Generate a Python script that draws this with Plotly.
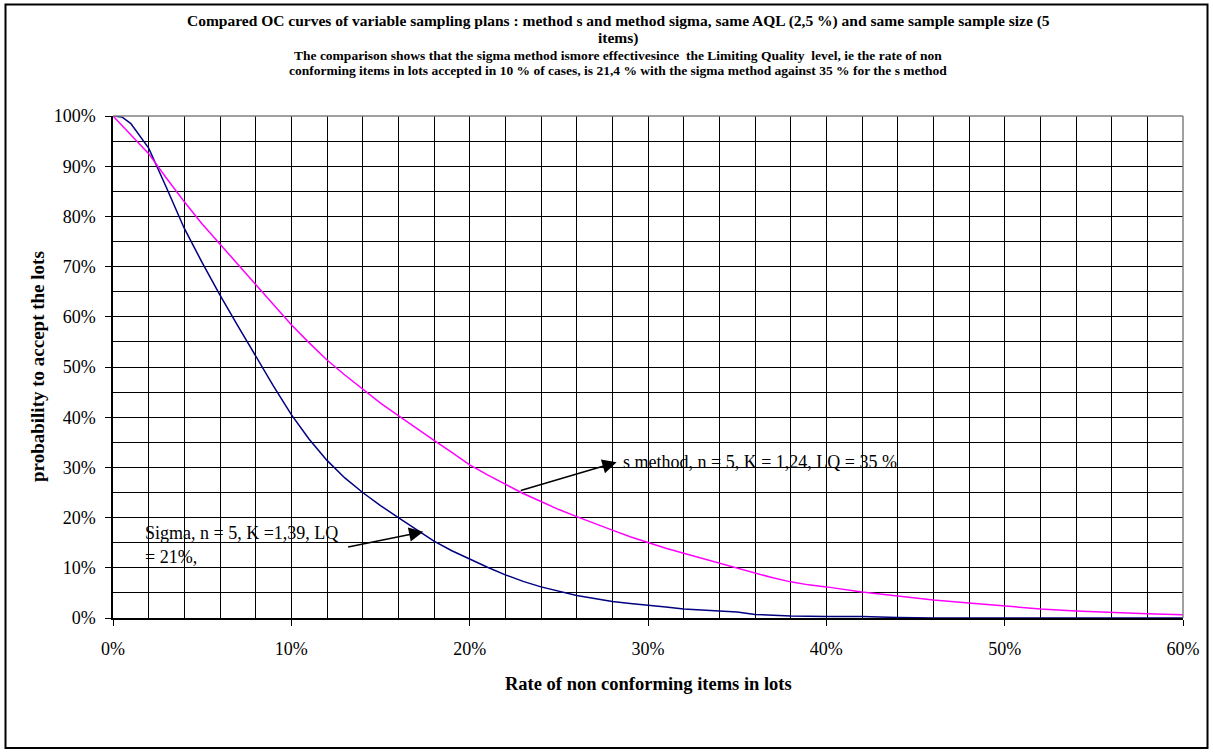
import plotly.graph_objects as go

# ---------------- data ----------------
rate_sigma = [0, 0.5, 1, 2, 3, 4, 5, 6, 7, 8, 9, 10, 11, 12, 13, 14, 15, 16, 17, 18, 19, 20,
              21, 22, 23, 24, 25, 26, 27, 28, 29, 30, 31, 32, 33, 34, 35, 36, 37, 38, 40,
              42, 44, 46, 50, 55, 60]
pa_sigma = [100, 99.8, 98.5, 93.6, 85.7, 77.6, 70.8, 64.3, 58.2, 52.1, 46.2, 40.5, 35.6, 31.4,
            27.9, 25.0, 22.4, 20.0, 17.6, 15.3, 13.4, 11.7, 10.1, 8.6, 7.3, 6.2, 5.3, 4.5,
            3.9, 3.3, 2.9, 2.6, 2.2, 1.8, 1.6, 1.5, 1.2, 0.7, 0.5, 0.4, 0.3, 0.3, 0.1, 0.0,
            0.0, 0.0, 0.0]

rate_s = [0, 1, 2, 3, 4, 5, 6, 7, 8, 9, 10, 11, 12, 13, 14, 15, 16, 17, 18, 19, 20, 21, 22,
          23, 24, 25, 26, 27, 28, 29, 30, 31, 32, 33, 34, 35, 36, 37, 38, 39, 40, 41, 42, 44,
          46, 48, 50, 52, 54, 56, 58, 60]
pa_s = [100, 96.2, 92.5, 87.6, 82.9, 78.5, 74.5, 70.5, 66.5, 62.3, 58.4, 54.8, 51.4, 48.4,
        45.6, 42.8, 40.3, 37.8, 35.4, 33.0, 30.5, 28.5, 26.6, 24.8, 23.2, 21.6, 20.2, 18.8,
        17.5, 16.2, 15.0, 13.9, 12.9, 11.9, 10.9, 9.9, 8.9, 8.0, 7.2, 6.6, 6.2, 5.7, 5.2,
        4.4, 3.6, 3.0, 2.4, 1.8, 1.4, 1.06, 0.86, 0.66]

title_line1 = ("Compared OC curves of variable sampling plans : method s and method sigma, "
               "same AQL (2,5 %) and same sample sample size (5")
title_line2 = "items)"
title_line3 = ("The comparison shows that the sigma method ismore effectivesince  the Limiting "
               "Quality  level, ie the rate of non")
title_line4 = ("conforming items in lots accepted in 10 % of cases, is 21,4 % with the sigma "
               "method against 35 % for the s method")
x_title = "Rate of non conforming items in lots"
y_title = "probability to accept the lots"
label_s = "s method, n = 5, K = 1,24, LQ = 35 %"
label_sigma_1 = "Sigma, n = 5, K =1,39, LQ"
label_sigma_2 = "= 21%,"

FONT = "Liberation Serif, Times New Roman, serif"

fig = go.Figure()
fig.add_trace(go.Scatter(x=[v / 100 for v in rate_sigma], y=[v / 100 for v in pa_sigma],
                         mode="lines", line=dict(color="#000080", width=1.5),
                         showlegend=False, hoverinfo="skip"))
fig.add_trace(go.Scatter(x=[v / 100 for v in rate_s], y=[v / 100 for v in pa_s],
                         mode="lines", line=dict(color="#FF00FF", width=1.5),
                         showlegend=False, hoverinfo="skip"))

L, R, T, B = 113, 30, 116, 135
W, H = 1213, 753
pw, ph = W - L - R, H - T - B


def px_x(px):
    return (px - L) / pw


def px_y(py):
    return (H - B - py) / ph


annotations = []
cx = px_x(618)
for txt, py, sz in [(title_line1, 21, 15.5), (title_line2, 38, 15.5),
                    (title_line3, 55, 13.5), (title_line4, 70.5, 13.5)]:
    annotations.append(dict(text="<b>%s</b>" % txt, x=cx, y=px_y(py), xref="paper", yref="paper",
                            xanchor="center", yanchor="middle", showarrow=False,
                            font=dict(family=FONT, size=sz, color="black")))
annotations.append(dict(text="<b>%s</b>" % x_title, x=0.5, y=px_y(684), xref="paper",
                        yref="paper", xanchor="center", yanchor="middle", showarrow=False,
                        font=dict(family=FONT, size=18.5, color="black")))
annotations.append(dict(text="<b>%s</b>" % y_title, x=px_x(37), y=0.5, xref="paper",
                        yref="paper", xanchor="center", yanchor="middle", showarrow=False,
                        textangle=-90, font=dict(family=FONT, size=19, color="black")))
# labels
annotations.append(dict(text=label_s, x=0.2849, y=0.3108, xref="x", yref="y", xanchor="left",
                        yanchor="middle", showarrow=False,
                        font=dict(family=FONT, size=18, color="black")))
annotations.append(dict(text=label_sigma_1, x=0.0168, y=0.1693, xref="x", yref="y",
                        xanchor="left", yanchor="middle", showarrow=False,
                        font=dict(family=FONT, size=18, color="black")))
annotations.append(dict(text=label_sigma_2, x=0.0168, y=0.1215, xref="x", yref="y",
                        xanchor="left", yanchor="middle", showarrow=False,
                        font=dict(family=FONT, size=18, color="black")))
# arrows
for (hx, hy, tx, ty) in [(0.2824, 0.3102, 0.2278, 0.2530), (0.1740, 0.1719, 0.1310, 0.1408)]:
    annotations.append(dict(text="", x=hx, y=hy, ax=tx, ay=ty, xref="x", yref="y",
                            axref="x", ayref="y", showarrow=True, arrowhead=2,
                            arrowsize=1.9, arrowwidth=1.5, arrowcolor="black", standoff=0))

shapes = [
    # outer frame
    dict(type="rect", xref="paper", yref="paper", x0=px_x(5.5), x1=px_x(1207.5),
         y0=px_y(748), y1=px_y(4.5), line=dict(color="black", width=2), layer="below"),
    # gray plot border (top/right)
    dict(type="line", xref="paper", yref="paper", x0=0, x1=1, y0=1, y1=1,
         line=dict(color="#808080", width=1.5)),
    dict(type="line", xref="paper", yref="paper", x0=1, x1=1, y0=0, y1=1,
         line=dict(color="#808080", width=1.5)),
]

fig.update_layout(
    width=W, height=H,
    margin=dict(l=L, r=R, t=T, b=B, pad=0),
    paper_bgcolor="white", plot_bgcolor="white",
    font=dict(family=FONT, size=18, color="black"),
    annotations=annotations, shapes=shapes,
    xaxis=dict(range=[0, 0.6], dtick=0.1, tick0=0, tickformat=".0%", showgrid=True,
               gridcolor="black", gridwidth=1, zeroline=False, showline=True,
               linecolor="black", linewidth=1.5, ticks="outside", ticklen=6,
               tickcolor="black", ticklabelstandoff=8,
               minor=dict(dtick=0.02, showgrid=True, gridcolor="black", gridwidth=1),
               tickfont=dict(family=FONT, size=18, color="black")),
    yaxis=dict(range=[0, 1], dtick=0.1, tick0=0, tickformat=".0%", showgrid=True,
               gridcolor="black", gridwidth=1, zeroline=False, showline=True,
               linecolor="black", linewidth=1.5, ticks="outside", ticklen=6,
               tickcolor="black", ticklabelstandoff=6,
               minor=dict(dtick=0.05, showgrid=True, gridcolor="black", gridwidth=1),
               tickfont=dict(family=FONT, size=18, color="black")),
)

fig.write_html("out.html", config={"displayModeBar": False},
               post_script="document.body.style.margin='0';")
